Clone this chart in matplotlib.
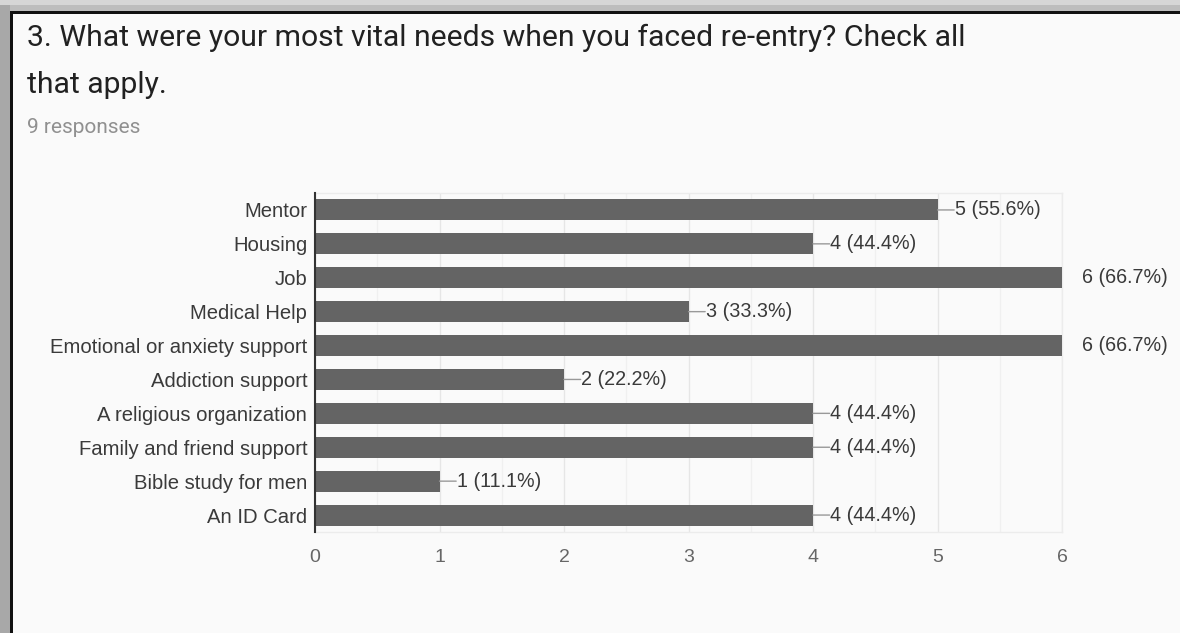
import matplotlib
matplotlib.use("Agg")
import matplotlib.pyplot as plt
from matplotlib.patches import Rectangle
import numpy as np

# ── Data ────────────────────────────────────────────────────────────────
categories = [
    "Mentor", "Housing", "Job", "Medical Help", "Emotional or anxiety support",
    "Addiction support", "A religious organization", "Family and friend support",
    "Bible study for men", "An ID Card",
]
counts = [5, 4, 6, 3, 6, 2, 4, 4, 1, 4]
n_responses = 9
x_ticks = [0, 1, 2, 3, 4, 5, 6]

W, H = 1180, 633
fig = plt.figure(figsize=(W / 100, H / 100), dpi=100)
fig.patch.set_facecolor("#fafafa")

# ── Screenshot frame: grey shadow on top/left, black border ─────────────
bg = fig.add_axes([0, 0, 1, 1])
bg.set_xlim(0, W)
bg.set_ylim(H, 0)
bg.axis("off")
bg.add_patch(Rectangle((0, 0), W, 11, color="#bdbdbd", lw=0))
bg.add_patch(Rectangle((0, 0), 10, H, color="#a8a8a8", lw=0))
bg.add_patch(Rectangle((0, 0), W, 5, color="#d6d6d6", lw=0))
bg.add_patch(Rectangle((10, 11), W, 2.5, color="#111111", lw=0))
bg.add_patch(Rectangle((10, 11), 2.5, H, color="#111111", lw=0))

fig.text(27 / W, 1 - 38 / H, "3. What were your most vital needs when you faced re-entry? Check all",
         fontsize=21.7, family="Roboto", color="#212121", va="center", ha="left")
fig.text(27 / W, 1 - 85 / H, "that apply.",
         fontsize=21.7, family="Roboto", color="#212121", va="center", ha="left")
fig.text(27 / W, 1 - 128 / H, f"{n_responses} responses",
         fontsize=15, family="Roboto", color="#909090", va="center", ha="left")

# ── Bar chart ────────────────────────────────────────────────────────────
left, right, top, bottom = 315, 1062, 193, 532
ax = fig.add_axes([left / W, 1 - bottom / H, (right - left) / W, (bottom - top) / H])
ax.set_facecolor("none")

y = np.arange(len(categories))
ax.barh(y, counts, height=0.62, color="#646464", zorder=3)
ax.set_ylim(len(categories) - 0.5, -0.5)
ax.set_xlim(0, 6)

ax.set_xticks(x_ticks)
ax.set_xticks(np.arange(0.5, 6, 1), minor=True)
ax.grid(True, axis="x", which="major", color="#e6e6e6", lw=1, zorder=0)
ax.grid(True, axis="x", which="minor", color="#f0f0f0", lw=1, zorder=0)
ax.set_yticks(y)
ax.set_yticklabels(categories, family="Liberation Sans", fontsize=14.6, color="#3a3a3a")
ax.set_xticklabels([str(t) for t in x_ticks], family="Liberation Sans", fontsize=14, color="#666666")
ax.tick_params(axis="both", which="both", length=0)
ax.tick_params(axis="y", pad=5.5)
ax.tick_params(axis="x", pad=12)

for s in ("top", "right", "bottom"):
    ax.spines[s].set_color("#ececec")
    ax.spines[s].set_linewidth(1)
ax.spines["left"].set_color("#333333")
ax.spines["left"].set_linewidth(1.5)
ax.spines["left"].set_zorder(4)

max_x = ax.get_xlim()[1]
for yi, c in zip(y, counts):
    label = f"{c} ({c / n_responses * 100:.1f}%)"
    if c >= max_x:
        ax.annotate(label, (c, yi), xytext=(14.4, 0), textcoords="offset points",
                    va="center", ha="left", fontsize=14.2, family="Liberation Sans",
                    color="#3a3a3a", annotation_clip=False)
    else:
        ax.annotate("", (c, yi), xytext=(12, 0), textcoords="offset points",
                    arrowprops=dict(arrowstyle="-", color="#999999", lw=1,
                                    shrinkA=0, shrinkB=0))
        ax.annotate(label, (c, yi), xytext=(12.5, 0), textcoords="offset points",
                    va="center", ha="left", fontsize=14.2, family="Liberation Sans",
                    color="#3a3a3a")

fig.savefig("out.png", dpi=100, facecolor=fig.get_facecolor())
